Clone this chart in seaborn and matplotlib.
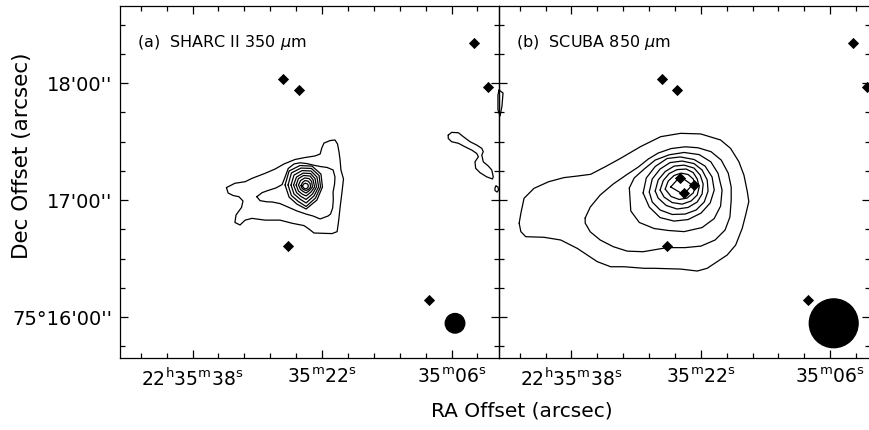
import numpy as np
import pandas as pd
import matplotlib
matplotlib.use("Agg")
import matplotlib.pyplot as plt
from matplotlib.patches import Ellipse
from matplotlib.ticker import FixedLocator
import seaborn as sns

# Map centre: RA 22h35m22s, Dec +75d17m00s. Offsets in arcsec, RA offset positive to the east.
DEC_REF_DEG = 75 + 17 / 60
RA_REF_SEC = 22.0

RA_MAJOR_SEC = [38.0, 22.0, 6.0]
RA_MAJOR_LABELS = [r"$22^{\rm h}35^{\rm m}38^{\rm s}$", r"$35^{\rm m}22^{\rm s}$", r"$35^{\rm m}06^{\rm s}$"]
RA_MINOR_STEP_SEC = 3.2

DEC_MAJOR = [-60, 0, 60]
DEC_MAJOR_LABELS = ["75\u00b016'00''", "17'00''", "18'00''"]
DEC_MINOR_STEP = 15

PANEL_TITLES = [r"(a)  SHARC II 350 $\mu$m", r"(b)  SCUBA 850 $\mu$m"]

# Field stars (RA offset, Dec offset) shown in both maps
STAR_RA = [18.2, 11.0, -71.7, -78.3, 15.9, -50.5]
STAR_DEC = [62.0, 56.3, 80.7, 58.1, -23.6, -51.3]
# Embedded sources at the 850 um peak
CORE_RA = [9.9, 3.0, 7.9]
CORE_DEC = [11.4, 7.5, 3.4]

# Beam FWHM (arcsec) and where the beam is drawn
BEAM_FWHM = [10.0, 25.0]
BEAM_POS = (-62.6, -63.2)

# ---- SHARC II 350 um contours (RA offset, Dec offset) ----
sharc_c1 = [(45.0, 6.4), (41.0, 8.6), (36.2, 9.4), (33.0, 11.1), (26.8, 13.7), (22.1, 15.9),
            (17.9, 18.5), (12.7, 20.8), (8.0, 21.8), (3.3, 22.6), (0.9, 23.6), (0.1, 26.7),
            (-0.9, 29.2), (-3.8, 30.5), (-6.1, 30.8), (-7.3, 28.7), (-8.0, 24.6), (-8.5, 20.5),
            (-8.9, 15.4), (-10.1, 10.8), (-9.4, 4.1), (-8.5, -3.8), (-7.8, -10.8), (-7.1, -16.2),
            (-4.7, -17.2), (-1.4, -17.1), (3.8, -16.9), (6.1, -14.9), (8.5, -13.1), (14.1, -11.9),
            (19.8, -10.3), (26.8, -10.3), (33.0, -9.4), (36.2, -10.3), (38.6, -12.8), (41.0, -11.5),
            (40.5, -7.7), (37.9, -3.8), (37.2, -0.5), (39.1, 1.7), (41.8, 2.3), (44.2, 3.6)]
sharc_c2 = [(30.7, 1.7), (28.2, 3.8), (25.4, 4.9), (21.7, 6.2), (18.8, 7.9), (17.4, 11.8),
            (15.9, 16.2), (13.2, 18.5), (10.4, 19.1), (7.1, 18.7), (4.1, 17.9), (0.9, 17.2),
            (-2.4, 16.7), (-5.2, 15.4), (-6.1, 11.8), (-5.9, 8.2), (-5.2, 4.1), (-5.3, 0.0),
            (-5.0, -4.1), (-4.0, -7.2), (-2.8, -8.2), (0.9, -9.7), (4.2, -8.2), (7.5, -7.2),
            (11.8, -5.6), (16.0, -3.6), (19.8, -1.8), (23.5, -1.0), (26.0, -0.9), (29.2, -0.3)]
sharc_c3 = [(17.4, 7.7), (15.5, 14.9), (10.4, 17.7), (4.7, 17.4), (0.5, 13.3), (-0.2, 6.7),
            (2.4, 0.0), (7.5, -4.6), (11.8, -2.1), (15.5, 1.5)]
sharc_c4 = [(16.0, 7.7), (14.4, 13.9), (9.9, 16.4), (5.0, 16.2), (1.4, 12.6), (0.7, 6.7),
            (3.1, 1.0), (7.5, -3.3), (11.1, -0.8), (14.4, 2.3)]
sharc_c5 = [(14.6, 7.7), (13.2, 12.8), (9.4, 15.1), (5.2, 14.9), (2.4, 11.8), (1.6, 6.7),
            (3.8, 2.1), (7.5, -1.5), (10.4, 0.5), (13.2, 3.1)]
sharc_c6 = [(13.4, 7.7), (12.0, 11.8), (8.9, 13.8), (5.4, 13.6), (3.3, 11.0), (2.6, 6.7),
            (4.5, 3.1), (7.5, 0.3), (9.9, 1.8), (12.0, 3.8)]
sharc_c7 = [(12.2, 7.7), (11.1, 11.0), (8.7, 12.6), (5.6, 12.3), (4.2, 10.3), (3.5, 6.7),
            (5.2, 4.1), (7.5, 2.1), (9.4, 3.1), (11.1, 4.6)]
sharc_c8 = [(11.1, 7.7), (10.1, 10.0), (8.2, 11.3), (6.1, 11.0), (4.9, 9.5), (4.5, 6.7),
            (5.9, 4.9), (7.5, 3.6), (8.9, 4.4), (10.1, 5.4)]
sharc_c9 = [(9.9, 7.4), (9.2, 9.0), (8.0, 10.0), (6.6, 9.7), (5.6, 8.5), (5.4, 6.7),
            (6.4, 5.4), (7.5, 4.9), (8.7, 5.4), (9.5, 6.2)]
sharc_c10 = [(9.2, 7.2), (8.7, 8.2), (7.8, 8.6), (6.8, 8.2), (6.4, 7.2), (6.8, 6.2),
             (7.8, 5.7), (8.7, 6.2)]
sharc_west = [(-59.4, 33.3), (-61.0, 34.7), (-64.2, 34.5), (-66.5, 32.5), (-69.7, 29.9),
              (-72.8, 28.2), (-75.2, 26.5), (-75.9, 24.8), (-75.2, 23.1), (-75.9, 19.6),
              (-78.3, 17.4), (-79.9, 15.4), (-80.6, 11.9), (-80.2, 10.8), (-77.5, 11.9),
              (-74.4, 14.0), (-72.3, 16.3), (-72.0, 19.6), (-73.6, 22.2), (-72.8, 23.9),
              (-70.5, 25.6), (-67.3, 27.3), (-64.2, 29.1), (-61.0, 29.9), (-59.4, 31.6)]
# pieces lying on the map's western border
sharc_edge1 = [(-83.3, 56.4), (-85.2, 54.9), (-84.7, 48.2), (-83.8, 43.1), (-82.8, 46.2), (-82.8, 53.8)]
sharc_edge2 = [(-81.9, 7.2), (-82.8, 6.7), (-83.1, 5.1), (-82.4, 4.1), (-81.4, 4.9), (-81.4, 6.2)]

# ---- SCUBA 850 um contours ----
scuba_c1 = [(85.6, -11.9), (84.8, -6.8), (83.3, 0.9), (78.6, 6.0), (71.7, 9.4), (64.5, 11.5),
            (58.2, 12.3), (51.9, 13.2), (45.0, 17.1), (37.8, 21.4), (28.4, 27.4), (18.9, 32.5),
            (9.5, 34.2), (0.1, 33.9), (-9.3, 30.8), (-14.0, 26.5), (-17.9, 19.7), (-20.3, 12.8),
            (-21.9, 4.3), (-22.6, -0.8), (-21.1, -7.7), (-19.5, -14.5), (-16.4, -23.1),
            (-12.4, -28.2), (-7.7, -31.6), (-3.0, -35.0), (1.7, -36.4), (9.5, -35.4),
            (22.1, -35.0), (26.8, -35.0), (36.2, -34.2), (42.5, -34.2), (48.8, -31.6),
            (53.5, -28.2), (58.2, -24.8), (66.0, -20.5), (73.9, -19.1), (82.5, -18.8), (84.8, -16.2)]
scuba_c2 = [(54.5, -9.2), (52.1, -3.6), (47.4, 2.6), (41.3, 8.2), (35.2, 12.8), (29.5, 16.9),
            (24.8, 21.0), (20.1, 24.1), (14.0, 26.4), (7.4, 27.3), (1.3, 26.8), (-4.8, 24.8),
            (-9.6, 20.5), (-12.9, 13.8), (-14.3, 6.7), (-14.3, 0.0), (-13.7, -8.7), (-11.4, -15.4),
            (-6.7, -20.5), (-0.1, -23.6), (7.4, -24.4), (15.9, -24.4), (27.2, -26.5), (34.7, -26.2),
            (41.3, -23.9), (47.4, -20.5), (52.1, -16.3), (54.5, -11.8)]
scuba_c3 = [(33.7, 6.2), (31.4, 11.3), (26.7, 15.9), (21.5, 20.5), (14.9, 23.2), (7.9, 24.4),
            (0.8, 23.3), (-4.7, 19.6), (-8.1, 13.7), (-10.0, 5.1), (-9.3, -3.1), (-6.3, -9.5),
            (-0.6, -14.1), (7.9, -16.2), (15.4, -15.6), (22.0, -14.6), (29.0, -11.5), (33.0, -5.6)]
scuba_c4 = [(27.2, 3.6), (25.7, 11.3), (21.5, 17.2), (15.9, 21.3), (9.7, 22.1), (3.2, 20.8),
            (-2.0, 17.4), (-5.3, 11.8), (-6.3, 5.1), (-4.4, -1.5), (-0.1, -6.7), (6.0, -10.0),
            (12.6, -10.8), (19.2, -9.0), (24.3, -3.6)]
scuba_c5 = [(24.3, 4.1), (22.9, 10.8), (19.2, 15.9), (14.5, 19.2), (8.8, 20.0), (3.2, 18.7),
            (-0.6, 15.4), (-3.0, 10.3), (-3.4, 4.6), (-1.6, -1.0), (2.2, -5.1), (7.4, -7.2),
            (13.5, -7.4), (19.2, -5.1), (22.9, -1.0)]
scuba_c6 = [(21.5, 4.6), (20.1, 10.3), (16.8, 14.6), (12.6, 17.4), (7.9, 17.9), (3.2, 16.4),
            (0.3, 12.8), (-1.1, 8.2), (-0.6, 3.1), (1.7, -1.0), (6.0, -3.8), (11.2, -4.6),
            (16.3, -2.8), (20.1, 1.0)]
scuba_c7 = [(19.2, 5.1), (17.7, 10.0), (14.9, 13.6), (11.2, 15.6), (6.9, 15.9), (3.6, 14.1),
            (1.7, 10.8), (0.8, 6.7), (1.7, 2.6), (4.6, -0.5), (8.8, -2.1), (13.5, -1.3), (17.3, 1.5)]
scuba_c8 = [(16.8, 5.6), (15.4, 9.7), (12.6, 12.6), (9.3, 13.8), (6.0, 13.1), (3.6, 10.8),
            (2.4, 7.2), (3.6, 3.6), (6.5, 1.0), (10.2, 0.3), (14.0, 1.8)]
scuba_c9 = [(14.2, 6.7), (9.7, 12.1), (4.1, 7.7), (8.1, 2.8)]


def contour_frame(contours):
    rows = []
    for level, verts in enumerate(contours):
        for step, (ra, dec) in enumerate(list(verts) + [verts[0]]):
            rows.append({"level": level, "step": step, "ra": ra, "dec": dec})
    return pd.DataFrame(rows)


sns.set_theme(style="ticks")
plt.rcParams["font.family"] = ["DejaVu Sans"]
plt.rcParams["mathtext.fontset"] = "dejavusans"
plt.rcParams["axes.linewidth"] = 0.9
plt.rcParams["text.color"] = "black"
plt.rcParams["axes.labelcolor"] = "black"
plt.rcParams["xtick.color"] = "black"
plt.rcParams["ytick.color"] = "black"

W, H = 870, 430
fig = plt.figure(figsize=(W / 100, H / 100), dpi=100)
fig.patch.set_facecolor("white")
ax_a = fig.add_axes([120 / W, 72 / H, 379 / W, 352 / H])
ax_b = fig.add_axes([499 / W, 72 / H, 371 / W, 352 / H])

XLIMS = [(95.1, -83.3), (95.1, -79.7)]
YLIM = (-81.0, 99.5)

line_kw = dict(x="ra", y="dec", units="level", estimator=None, sort=False,
               color="black", linewidth=0.9, legend=False)

sharc = contour_frame([sharc_c1, sharc_c2, sharc_c3, sharc_c4, sharc_c5, sharc_c6,
                       sharc_c7, sharc_c8, sharc_c9, sharc_c10, sharc_west])
scuba = contour_frame([scuba_c1, scuba_c2, scuba_c3, scuba_c4, scuba_c5, scuba_c6,
                       scuba_c7, scuba_c8, scuba_c9])
edge = contour_frame([sharc_edge1, sharc_edge2])

sns.lineplot(data=sharc, ax=ax_a, **line_kw)
n_before = len(ax_a.lines)
sns.lineplot(data=edge, ax=ax_a, **line_kw)
for ln in ax_a.lines[n_before:]:
    ln.set_clip_on(False)
sns.lineplot(data=scuba, ax=ax_b, **line_kw)

star_kw = dict(marker="D", s=26, color="black", edgecolor="black", linewidth=0.6, legend=False, zorder=5)
for ax in (ax_a, ax_b):
    sns.scatterplot(x=STAR_RA, y=STAR_DEC, ax=ax, **star_kw)
sns.scatterplot(x=CORE_RA, y=CORE_DEC, ax=ax_b, **star_kw)

cosd = np.cos(np.radians(DEC_REF_DEG))


def ra_offset(sec):
    return (np.asarray(sec, dtype=float) - RA_REF_SEC) * 15.0 * cosd


ra_major = ra_offset(RA_MAJOR_SEC)
ra_minor = ra_offset(np.arange(RA_MAJOR_SEC[-1] - 2 * RA_MINOR_STEP_SEC,
                               RA_MAJOR_SEC[0] + 3 * RA_MINOR_STEP_SEC, RA_MINOR_STEP_SEC))
dec_minor = np.arange(-90, 105, DEC_MINOR_STEP)

for i, ax in enumerate((ax_a, ax_b)):
    ax.set_facecolor("none")
    ax.set_xlim(*XLIMS[i])
    ax.set_ylim(*YLIM)
    ax.set_xlabel("")
    ax.set_ylabel("")
    ax.set_xticks(ra_major, RA_MAJOR_LABELS)
    ax.xaxis.set_minor_locator(FixedLocator(ra_minor))
    ax.set_yticks(DEC_MAJOR, DEC_MAJOR_LABELS)
    ax.yaxis.set_minor_locator(FixedLocator(dec_minor))
    ax.tick_params(which="both", direction="in", top=True, right=True, width=0.9,
                   colors="black", labelcolor="black")
    ax.tick_params(which="major", length=6)
    ax.tick_params(which="minor", length=3.5)
    ax.tick_params(axis="x", pad=7, labelsize=13.5)
    ax.tick_params(axis="y", pad=5.5, labelsize=14)
    for sp in ax.spines.values():
        sp.set_linewidth(0.9)
        sp.set_color("black")
    ax.text(0.045, 0.895, PANEL_TITLES[i], transform=ax.transAxes, ha="left", va="center",
            fontsize=11.5, color="black")

    # restoring beam, drawn round on screen
    pos = ax.get_position()
    x0, x1 = ax.get_xlim()
    y0, y1 = ax.get_ylim()
    sx = pos.width * W / abs(x1 - x0)
    sy = pos.height * H / abs(y1 - y0)
    ax.add_patch(Ellipse(BEAM_POS, width=BEAM_FWHM[i] * sy / sx, height=BEAM_FWHM[i],
                         facecolor="black", edgecolor="black", zorder=4))

ax_b.tick_params(axis="y", labelleft=False)

fig.text(522 / W, 1 - 411 / H, "RA Offset (arcsec)", ha="center", va="center",
         fontsize=14.5, color="black")
fig.text(22 / W, 1 - 156 / H, "Dec Offset (arcsec)", rotation=90, ha="center", va="center",
         fontsize=15.5, color="black")

fig.savefig("out.png", dpi=100, facecolor="white")
